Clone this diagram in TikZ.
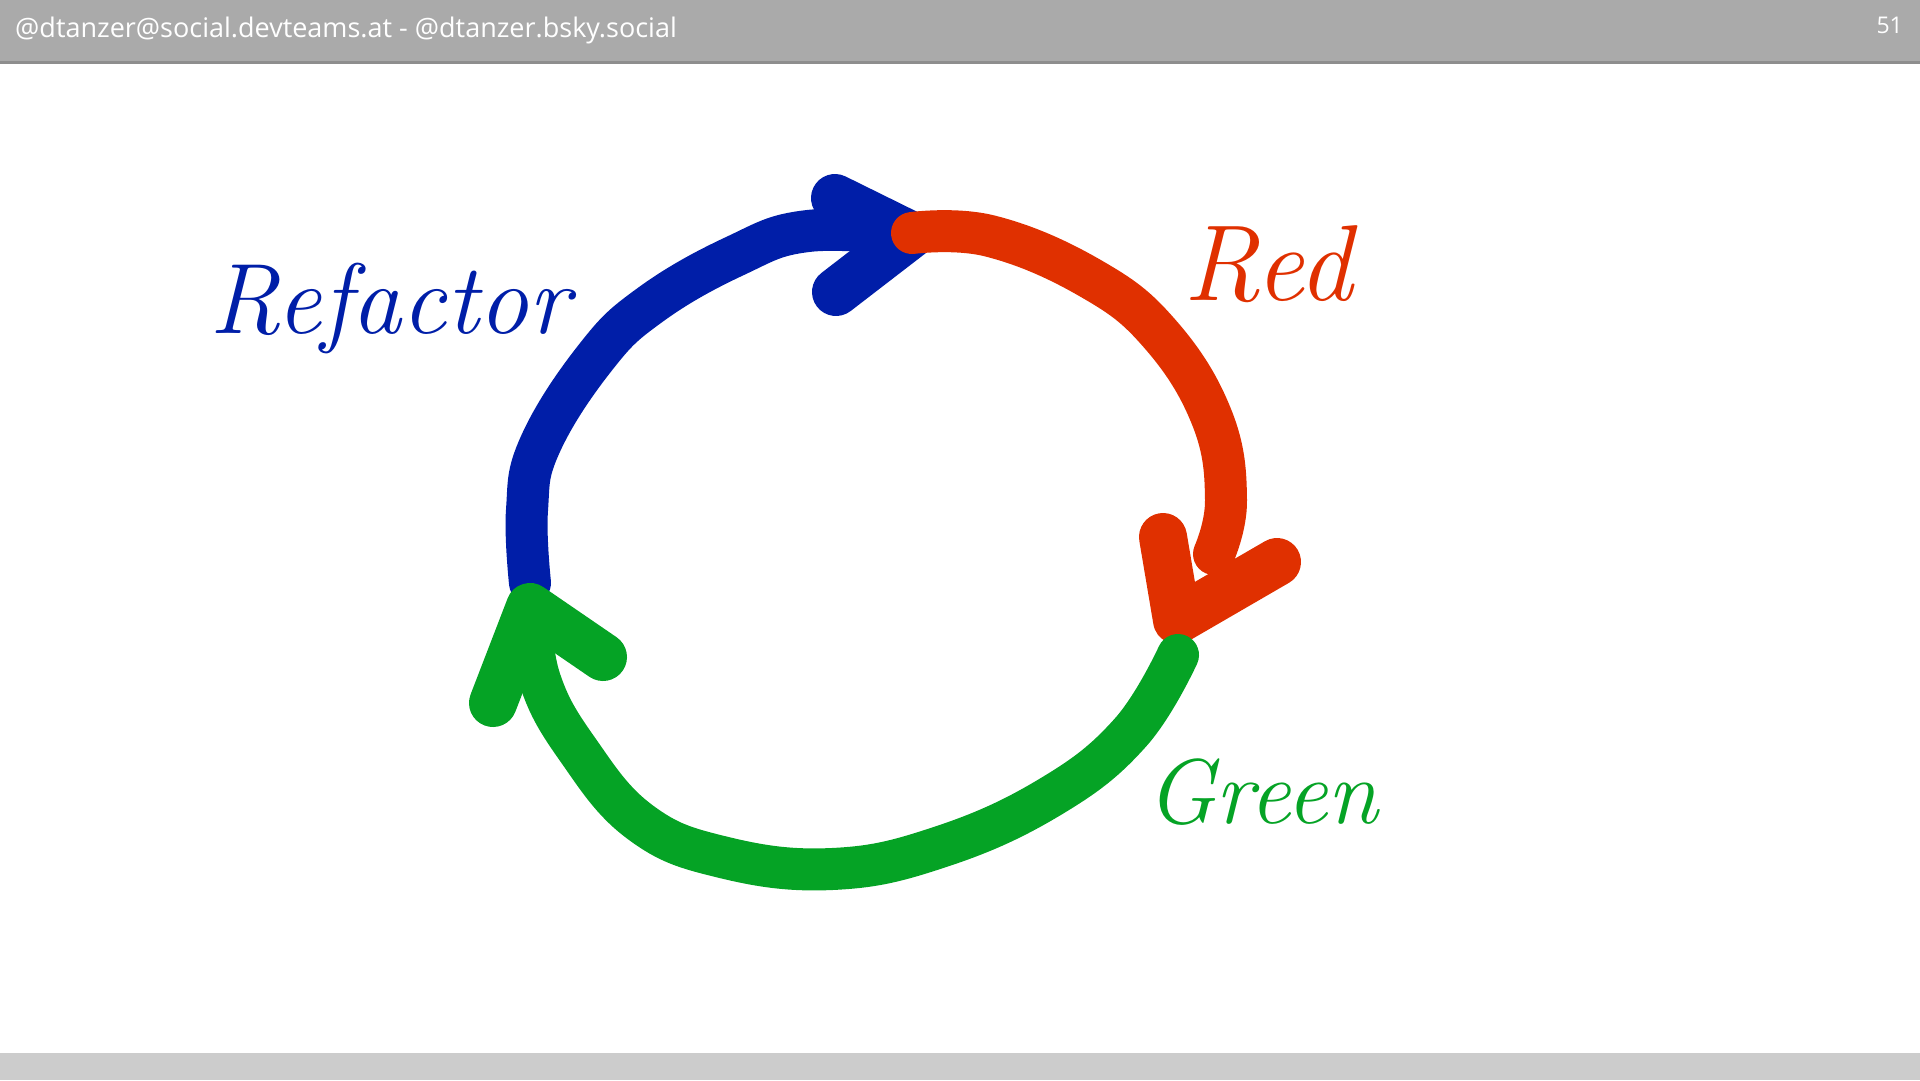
\documentclass[tikz,border=0pt]{standalone}
\usepackage{fontspec}
\setsansfont{Open Sans}
\usepackage{tikz}
\usetikzlibrary{arrows.meta,positioning,calc}
\usepackage{xcolor}
\definecolor{slidegray}{HTML}{AAAAAA}
\definecolor{slideline}{HTML}{8E8E8E}
\definecolor{footgray}{HTML}{CCCCCC}
\definecolor{tddblue}{HTML}{001EA8}
\definecolor{tddred}{HTML}{E03000}
\definecolor{tddgreen}{HTML}{05A325}

\begin{document}
\begin{tikzpicture}[
  x=1pt, y=-1pt,
  font=\sffamily,
  penstroke/.style={
    line width=42pt,
    line cap=round,
    line join=round
  },
  penhead/.style={
    penstroke,
    line width=48pt
  },
  handlabel/.style={
    font=\rmfamily\itshape,
    anchor=base,
    inner sep=0pt
  },
  headertext/.style={
    text=white,
    inner sep=0pt
  }
]
  \useasboundingbox (0,0) rectangle (1920,1080);

  % -------------------------------------------------------------
  % SLIDE FRAME: HEADER AND FOOTER BARS
  % -------------------------------------------------------------
  \fill[slidegray] (0,0) rectangle (1920,61);
  \fill[slideline] (0,61) rectangle (1920,64);
  \fill[footgray] (0,1053) rectangle (1920,1080);

  \node[headertext, anchor=base west, font=\sffamily\fontsize{27}{32}\selectfont] (handle) at (15,37)
    {@dtanzer@social.devteams.at - @dtanzer.bsky.social};
  \node[headertext, anchor=base east, font=\sffamily\fontsize{23}{27}\selectfont] (pageno) at (1903,33) {51};

  % -------------------------------------------------------------
  % CYCLE JOINTS
  % -------------------------------------------------------------
  \coordinate (refTail) at (530,583);
  \coordinate (refTip) at (910,235);
  \coordinate (redTail) at (912,233);
  \coordinate (redEnd) at (1214,554);
  \coordinate (redTip) at (1177,620);
  \coordinate (greenTail) at (1178,655);
  \coordinate (greenTip) at (530,607);

  % -------------------------------------------------------------
  % REFACTOR (BLUE)
  % -------------------------------------------------------------
  \draw[penstroke, tddblue] plot[smooth, tension=0.7] coordinates {
    (refTail) (527,510) (540,445) (595,358) (650,305)
    (735,256) (808,231) (refTip)};
  \draw[penhead, tddblue] (835,198) -- (refTip) -- (836,292);

  % -------------------------------------------------------------
  % RED
  % -------------------------------------------------------------
  \draw[penstroke, tddred] plot[smooth, tension=0.7] coordinates {
    (redTail) (990,236) (1090,278) (1160,334)
    (1212,418) (1226,500) (redEnd)};
  \draw[penhead, tddred] (1163,537) -- (redTip) -- (1277,562);

  % -------------------------------------------------------------
  % GREEN
  % -------------------------------------------------------------
  \draw[penstroke, tddgreen] plot[smooth, tension=0.7] coordinates {
    (greenTail) (1130,733) (1050,797) (940,847)
    (832,869) (722,857) (640,822) (578,750) (540,680) (greenTip)};
  \draw[penhead, tddgreen] (493,703) -- (greenTip) -- (603,657);

  % -------------------------------------------------------------
  % PHASE LABELS
  % -------------------------------------------------------------
  \node[handlabel, text=tddblue, font=\rmfamily\itshape\fontsize{100}{112}\selectfont] (refactor) at (390,333) {Refactor};
  \node[handlabel, text=tddred, font=\rmfamily\itshape\fontsize{108}{120}\selectfont] (red) at (1268,300) {Red};
  \node[handlabel, text=tddgreen, font=\rmfamily\itshape\fontsize{92}{104}\selectfont] (green) at (1262,823) {Green};

\end{tikzpicture}
\end{document}
